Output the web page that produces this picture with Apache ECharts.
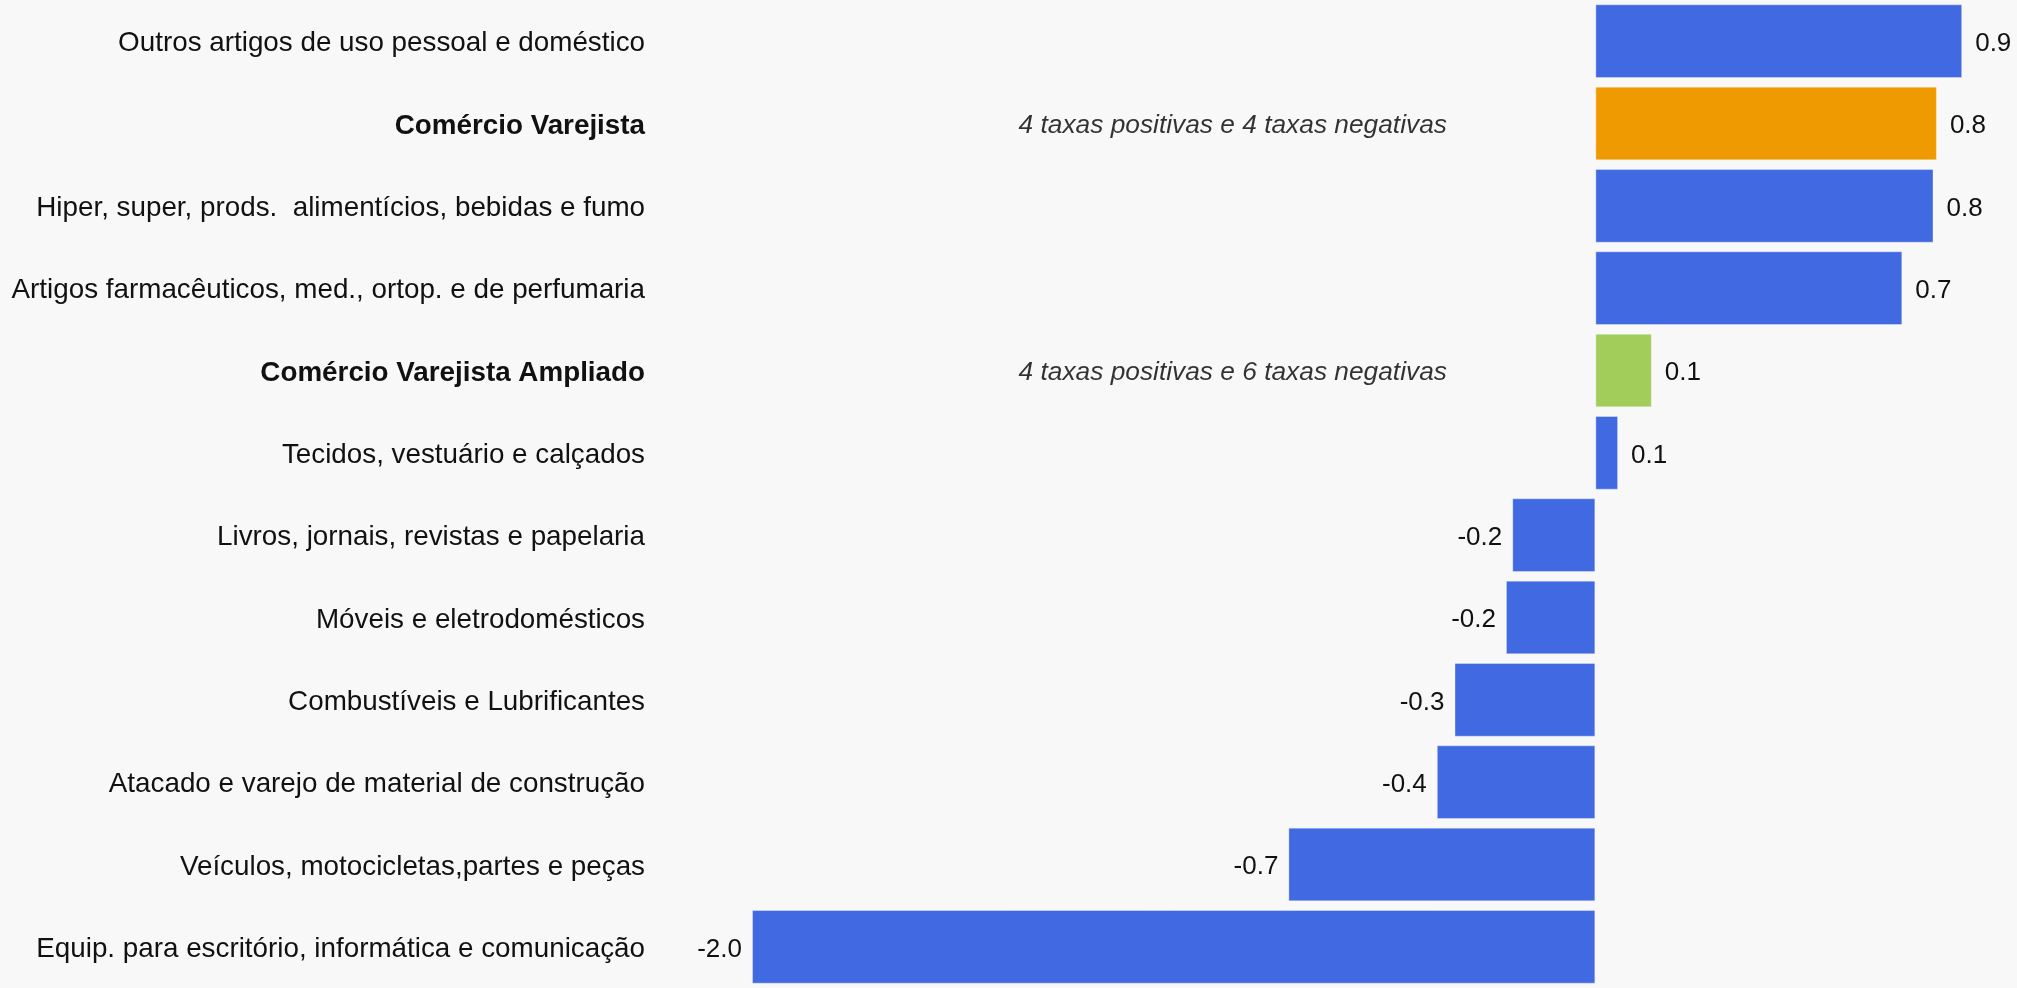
<!DOCTYPE html>
<html><head><meta charset="utf-8">
<script src="https://cdn.jsdelivr.net/npm/echarts@6/dist/echarts.min.js"></script>
<style>html,body{margin:0;padding:0;background:#f8f8f8;overflow:hidden}#c{width:2017px;height:988px}</style>
</head><body><div id="c"></div>
<script>
// ---- data ----
const categories = [
  'Outros artigos de uso pessoal e doméstico',
  'Comércio Varejista',
  'Hiper, super, prods.  alimentícios, bebidas e fumo',
  'Artigos farmacêuticos, med., ortop. e de perfumaria',
  'Comércio Varejista Ampliado',
  'Tecidos, vestuário e calçados',
  'Livros, jornais, revistas e papelaria',
  'Móveis e eletrodomésticos',
  'Combustíveis e Lubrificantes',
  'Atacado e varejo de material de construção',
  'Veículos, motocicletas,partes e peças',
  'Equip. para escritório, informática e comunicação'
];
const values = [0.870, 0.810, 0.802, 0.728, 0.134, 0.054, -0.197, -0.212, -0.334, -0.376, -0.728, -2.000];
const boldCategories = ['Comércio Varejista', 'Comércio Varejista Ampliado'];
const annotationCategories = ['Comércio Varejista', 'Comércio Varejista Ampliado'];
const annotationTexts = ['4 taxas positivas e 4 taxas negativas', '4 taxas positivas e 6 taxas negativas'];

// ---- chart ----
const FONT = '"Liberation Sans", Arial, sans-serif';
const TXT = '#111111';
const colorFor = name => name === 'Comércio Varejista' ? '#EE9A00'
  : (name === 'Comércio Varejista Ampliado' ? '#A2CD5A' : '#4169E1');
const ANNOT_X = -0.352;

const chart = echarts.init(document.getElementById('c'), null, {renderer: 'canvas'});
chart.setOption({
  backgroundColor: '#f8f8f8',
  animation: false,
  grid: {left: 752, width: 1267, top: 0, height: 992, containLabel: false},
  xAxis: {
    type: 'value', min: -2, max: 1,
    show: false
  },
  yAxis: {
    type: 'category', data: categories, inverse: true,
    axisLine: {show: false}, axisTick: {show: false}, splitLine: {show: false},
    axisLabel: {
      margin: 107, fontSize: 27.8, fontFamily: FONT, color: TXT,
      padding: [5, 0, 0, 0],
      formatter: v => boldCategories.includes(v) ? '{b|' + v + '}' : v,
      rich: {b: {fontWeight: 'bold', fontSize: 27.8, fontFamily: FONT, color: TXT}}
    }
  },
  series: [
    {
      type: 'bar',
      barCategoryGap: '10.5%',
      data: values.map((v, i) => ({
        value: v,
        itemStyle: {color: colorFor(categories[i]), borderColor: 'rgba(255,255,255,0.35)', borderWidth: 1},
        label: {position: v >= 0 ? 'right' : 'left', distance: v >= 0 ? 13 : 10}
      })),
      label: {
        show: true, fontSize: 26, fontFamily: FONT, color: TXT, offset: [0, 2.5],
        formatter: p => p.value.toFixed(1)
      }
    },
    {
      type: 'scatter',
      symbolSize: 0,
      silent: true,
      data: annotationCategories.map((c, i) => ({value: [ANNOT_X, c], name: annotationTexts[i]})),
      label: {
        show: true, position: 'left', distance: 0, fontSize: 26.3, fontStyle: 'italic',
        fontFamily: FONT, color: '#000000', offset: [0, 2.5],
        formatter: p => p.name
      }
    }
  ]
});
</script></body></html>
